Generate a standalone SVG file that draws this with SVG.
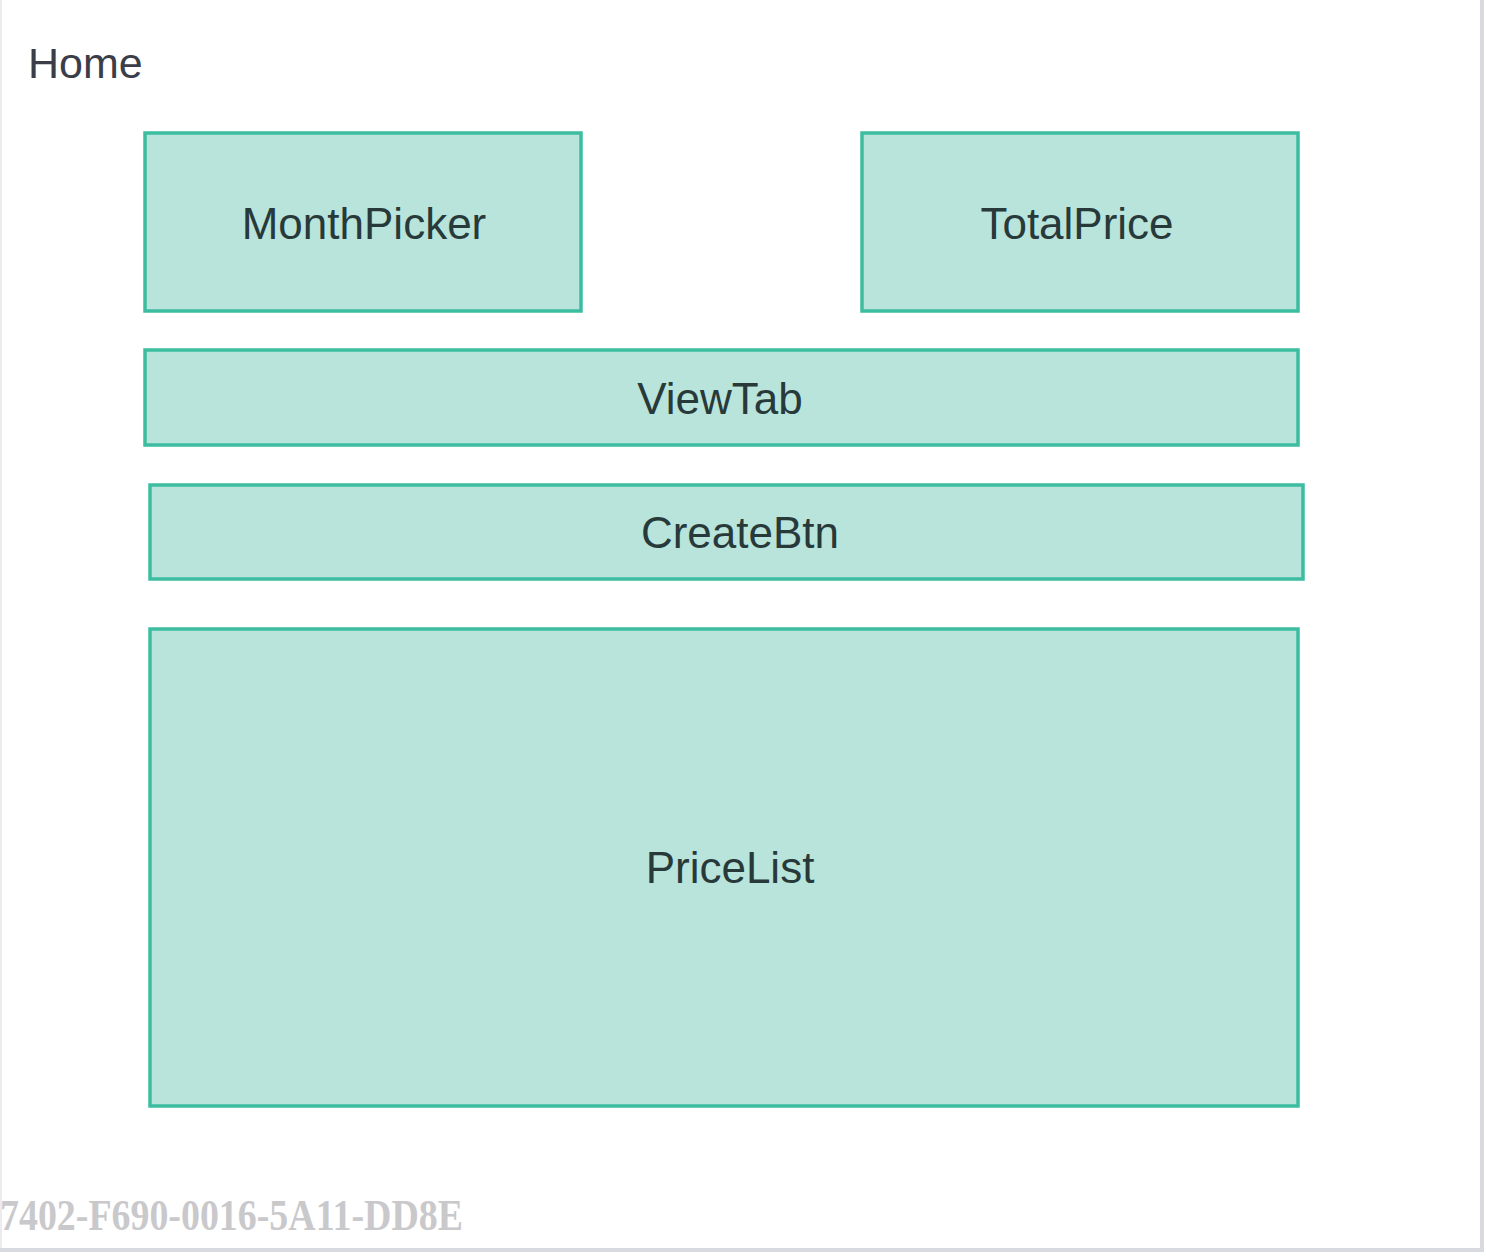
<svg xmlns="http://www.w3.org/2000/svg" width="1486" height="1260" viewBox="0 0 1486 1260">
<style>
.box{fill:#b8e4db;stroke:#3dbda0;stroke-width:3.5}
.lbl{font-family:"Liberation Sans",Arial,sans-serif;font-size:44px;fill:#28393a;text-anchor:middle}
.wm{font-family:"Liberation Serif","Times New Roman",serif;font-weight:bold;font-size:44px;fill:#c9c9cc}
</style>
<rect x="0" y="0" width="1486" height="1260" fill="#ffffff"/>
<line x1="1" y1="0" x2="1" y2="1250" stroke="#ececf0" stroke-width="2"/>
<line x1="1482" y1="0" x2="1482" y2="1251" stroke="#d9d9e0" stroke-width="4"/>
<line x1="0" y1="1250" x2="1484" y2="1250" stroke="#d9d9e0" stroke-width="4"/>
<text x="28" y="78" font-family="'Liberation Sans',Arial,sans-serif" font-size="43" fill="#3b3d48">Home</text>
<g id="monthpicker"><rect class="box" x="145" y="133" width="436" height="178"/><text class="lbl" x="364" y="239">MonthPicker</text></g>
<g id="totalprice"><rect class="box" x="862" y="133" width="436" height="178"/><text class="lbl" x="1077" y="239">TotalPrice</text></g>
<g id="viewtab"><rect class="box" x="145" y="350" width="1153" height="95"/><text class="lbl" x="720" y="414">ViewTab</text></g>
<g id="createbtn"><rect class="box" x="150" y="485" width="1153" height="94"/><text class="lbl" x="740" y="548">CreateBtn</text></g>
<g id="pricelist"><rect class="box" x="150" y="629" width="1148" height="477"/><text class="lbl" x="730" y="883">PriceList</text></g>
<g id="connectors"></g>
<text class="wm" x="0" y="1230" textLength="463" lengthAdjust="spacingAndGlyphs">7402-F690-0016-5A11-DD8E</text>
</svg>
